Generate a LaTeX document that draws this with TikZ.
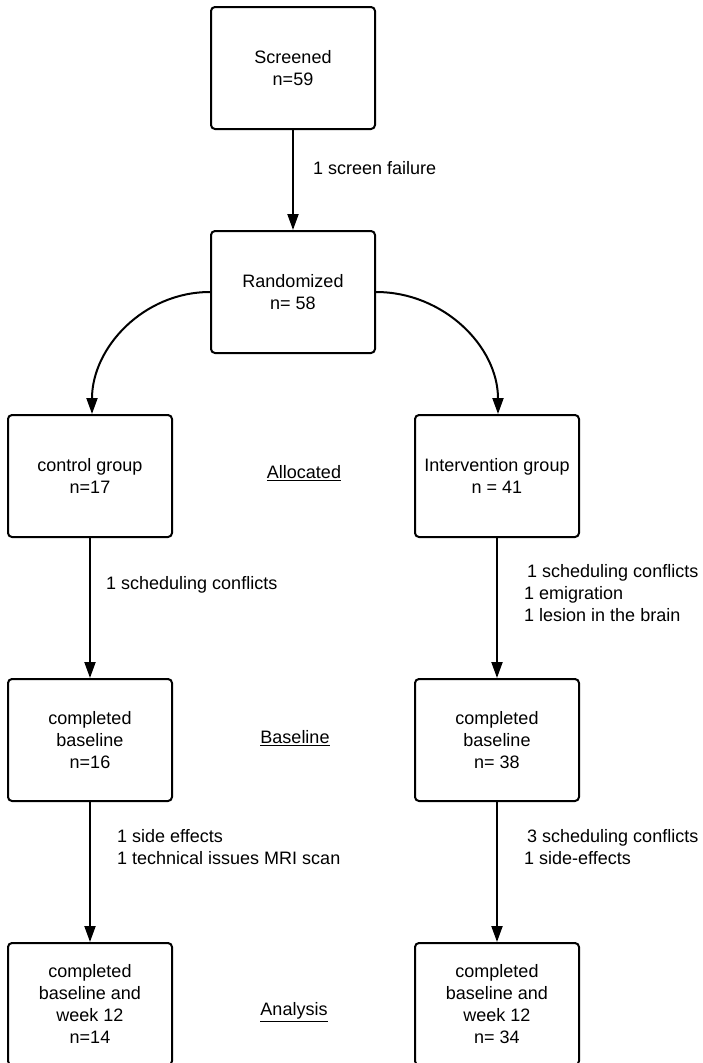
\documentclass[tikz,border=0pt]{standalone}
\usepackage{fontspec}
\setmainfont{Liberation Sans}
\usetikzlibrary{arrows.meta}

\newcommand*{\boxw}{164pt}
\newcommand*{\boxh}{122pt}

\begin{document}
\begin{tikzpicture}
[
	x=1pt, y=-1pt,
	stage/.style={draw,line width=2pt,rounded corners=4pt,align=center,
		minimum width=\boxw,minimum height=\boxh,inner sep=0pt},
	note/.style={anchor=west,align=left,inner sep=0pt},
	phase/.style={inner sep=0pt},
	flow/.style={line width=2pt,-{Triangle[length=16pt,width=11pt]}},
	every node/.style={font=\fontsize{18}{22}\selectfont}
]

	\useasboundingbox (0,0) rectangle (702,1063);

	% boxes
	\node[stage] (screened) at (293,68) {Screened\\n=59};
	\node[stage] (randomized) at (293,292) {Randomized\\n= 58};
	\node[stage] (control) at (90,476) {control group\\n=17};
	\node[stage] (intervention) at (497,476) {Intervention group\\n = 41};
	\node[stage] (controlbase) at (90,740) {completed\\baseline\\n=16};
	\node[stage] (interbase) at (497,740) {completed\\baseline\\n= 38};
	\node[stage] (controlfinal) at (90,1004) {completed\\baseline and\\week 12\\n=14};
	\node[stage] (interfinal) at (497,1004) {completed\\baseline and\\week 12\\n= 34};

	% phase labels
	\node[phase] (allocated) at (304,473) {\underline{Allocated}};
	\node[phase] (baseline) at (295,738) {\underline{Baseline}};
	\node[phase] (analysis) at (294,1012) {\underline{Analysis}};

	% drop-out notes
	\node[note] (failure) at (313,168) {1 screen failure};
	\node[note] (controlloss) at (106,585) {1 scheduling conflicts};
	\node[note] (interloss) at (524,593) {\,1 scheduling conflicts\\1 emigration\\1 lesion in the brain};
	\node[note] (controlloss2) at (117,847) {1 side effects\\1 technical issues MRI scan};
	\node[note] (interloss2) at (524,847) {\,3 scheduling conflicts\\1 side-effects};

	% arrows
	\draw[flow] (screened) -- (randomized);
	\draw[flow] (randomized.west) to[out=180,in=90] ([xshift=2pt]control.north);
	\draw[flow] (randomized.east) to[out=0,in=90] ([xshift=1pt]intervention.north);
	\draw[flow] (control) -- (controlbase);
	\draw[flow] (intervention) -- (interbase);
	\draw[flow] (controlbase) -- (controlfinal);
	\draw[flow] (interbase) -- (interfinal);

\end{tikzpicture}
\end{document}
